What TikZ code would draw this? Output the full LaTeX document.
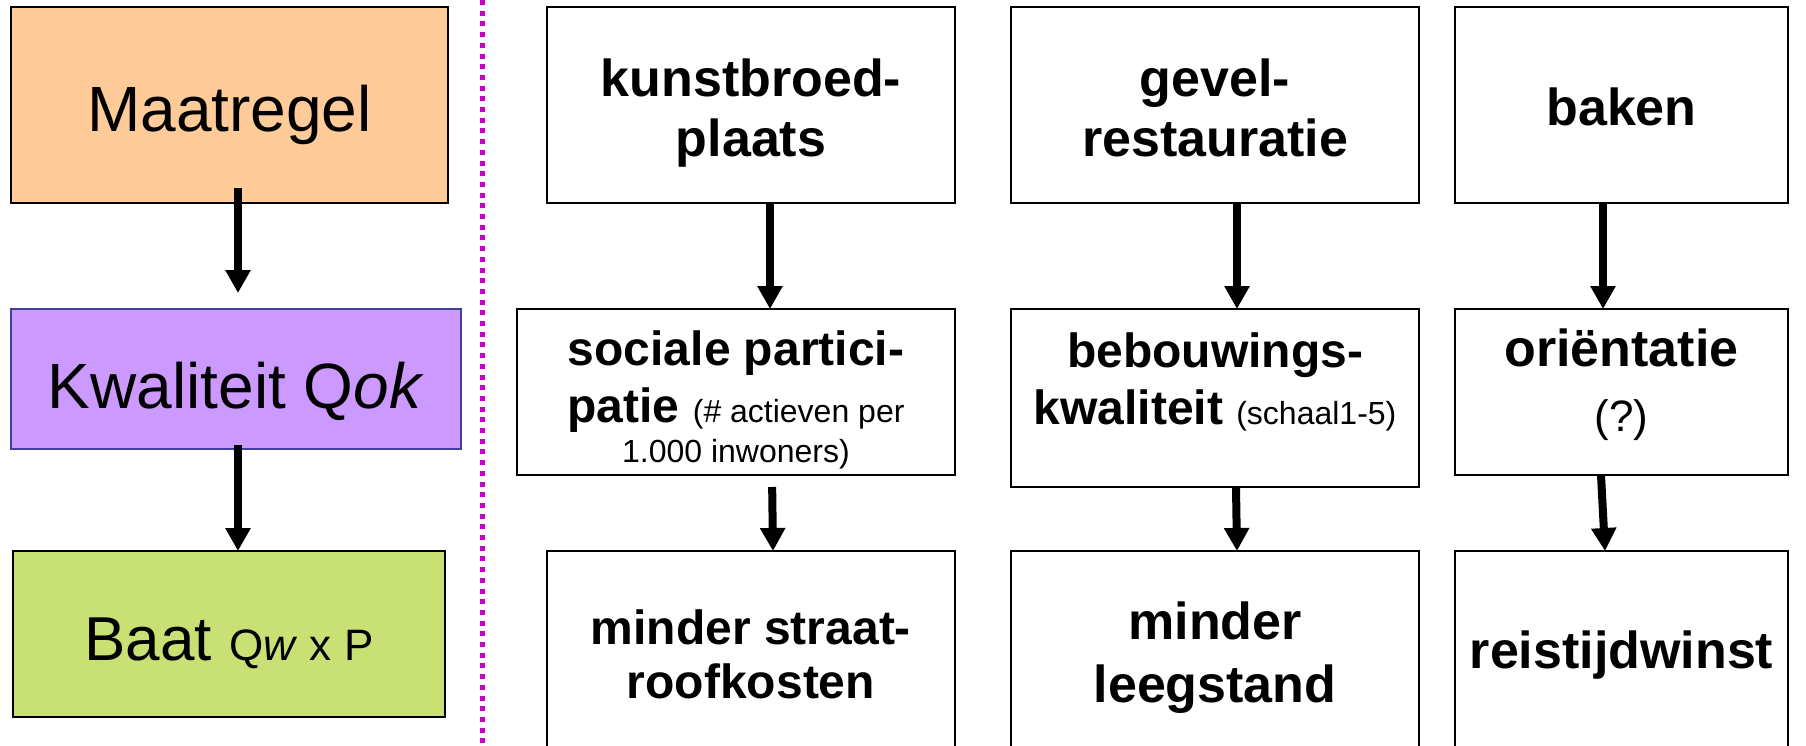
\documentclass[tikz,border=0pt]{standalone}
\usepackage{fontspec}
\setmainfont{Liberation Sans}
\usetikzlibrary{arrows.meta}

\definecolor{maatfill}{HTML}{FFCC99}
\definecolor{kwalfill}{HTML}{CC99FF}
\definecolor{kwaldraw}{HTML}{3F3F9F}
\definecolor{baatfill}{HTML}{C8E074}
\definecolor{sepmagenta}{HTML}{CC00CC}

\def \globalscale {1.000000}

\newcommand\smalltxt{\fontsize{16}{19}\selectfont\mdseries}

\tikzset{
  box/.style={draw=black, line width=1pt, align=center},
  lastline/.style={text height=#1, text depth=0pt},
  leftbox/.style={box, font=\fontsize{32}{38}\selectfont},
  bigtxt/.style={box, font=\fontsize{26}{30}\selectfont\bfseries},
  midtxt/.style={box, font=\fontsize{24}{28.5}\selectfont\bfseries},
  flow/.style={line width=4pt, -{Triangle[length=11.5pt,width=12pt]}},
  sepline/.style={draw=sepmagenta, line width=2.5pt, dash pattern=on 2.5pt off 2.85pt}
}

\begin{document}
\begin{tikzpicture}[y=0.50pt, x=0.50pt, yscale=-\globalscale, xscale=\globalscale, inner sep=0pt, outer sep=0pt]
\useasboundingbox (0,0) rectangle (1806,745);
\clip (0,0) rectangle (1806,745);

\node[leftbox, lastline=26pt, fill=maatfill, minimum width=218.5pt, minimum height=98pt] (maat) at (229.5,105) {Maatregel};

\node[leftbox, lastline=29pt, fill=kwalfill, draw=kwaldraw, minimum width=225pt, minimum height=70pt] (kwal) at (236,379) {Kwaliteit Q\textit{ok}};

\node[leftbox, lastline=26pt, font=\fontsize{31}{37}\selectfont, fill=baatfill, minimum width=216pt, minimum height=83pt] (baat) at (229,634) {Baat {\fontsize{22}{26}\selectfont Q\textit{w} x P}};



\path[sepline] (482,0) -- (482,745);



\node[bigtxt, lastline=51pt, minimum width=204pt, minimum height=98pt] (kunst) at (751,105) {kunstbroed-\\plaats};

\node[midtxt, lastline=70pt, minimum width=219pt, minimum height=83pt] (soc) at (736,392) {sociale partici-\\patie {\smalltxt (\# actieven per}\\[-8.5pt]{\smalltxt 1.000 inwoners)}};

\node[midtxt, lastline=49pt, minimum width=204pt, minimum height=98pt] (straat) at (751,649) {minder straat-\\[-1.5pt]roofkosten};



\node[bigtxt, lastline=51pt, minimum width=204pt, minimum height=98pt] (gevel) at (1215,105) {gevel-\\restauratie};

\node[midtxt, lastline=26pt, minimum width=204pt, minimum height=89pt] (bebouw) at (1215,398) {bebouwings-\\kwaliteit {\smalltxt (schaal1-5)}};

\node[bigtxt, lastline=53.5pt, minimum width=204pt, minimum height=98pt] (leeg) at (1215,649) {minder\\[1.5pt]leegstand};



\node[bigtxt, lastline=20pt, minimum width=166.5pt, minimum height=98pt] (baken) at (1621.5,105) {baken};

\node[bigtxt, lastline=39.5pt, minimum width=166.5pt, minimum height=83pt] (orient) at (1621.5,392) {oriëntatie\\[2.5pt]{\mdseries\fontsize{22}{26}\selectfont (?)}};

\node[bigtxt, lastline=19pt, minimum width=166.5pt, minimum height=98pt] (reis) at (1621.5,649) {reistijdwinst};



\draw[flow, shorten <=-7.5pt, shorten >=8pt] (238,0 |- maat.south) -- (238,0 |- kwal.north);

\draw[flow, shorten <=-2pt] (238,0 |- kwal.south) -- (238,0 |- baat.north);

\draw[flow] (770,0 |- kunst.south) -- (770,0 |- soc.north);

\draw[flow, shorten <=6pt] (772,0 |- soc.south) -- (773,0 |- straat.north);

\draw[flow] (1237,0 |- gevel.south) -- (1237,0 |- bebouw.north);

\draw[flow] (1236,0 |- bebouw.south) -- (1237,0 |- leeg.north);

\draw[flow] (1603,0 |- baken.south) -- (1603,0 |- orient.north);

\draw[flow] (1601,0 |- orient.south) -- (1605,0 |- reis.north);

\end{tikzpicture}
\end{document}
